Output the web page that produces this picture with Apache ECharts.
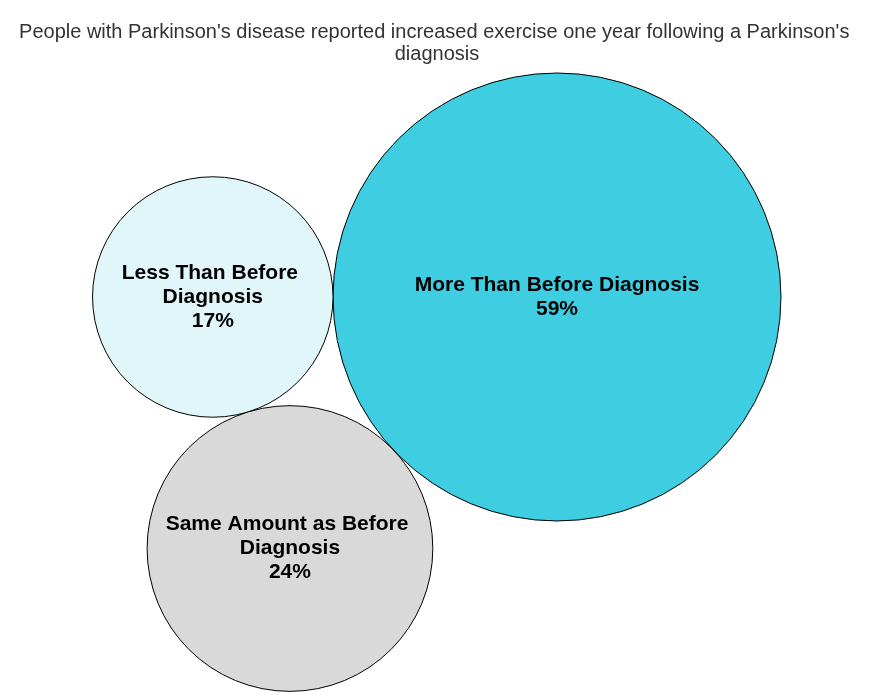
<!DOCTYPE html>
<html>
<head>
<meta charset="utf-8">
<script src="https://cdn.jsdelivr.net/npm/echarts@6/dist/echarts.min.js"></script>
<style>html,body{margin:0;padding:0;background:#fff}#c{width:874px;height:700px}</style>
</head>
<body>
<div id="c"></div>
<script>
const categories = ["More Than Before Diagnosis", "Less Than Before Diagnosis", "Same Amount as Before Diagnosis"];
const values = [59, 17, 24];
const colors = ["#3ECDE1", "#E1F6F9", "#D9D9D9"];
const titleText = "People with Parkinson's disease reported increased exercise one year following a Parkinson's diagnosis";

// packing layout: radius proportional to sqrt(value); largest circle first,
// second tangent on its left, third tangent to both below.
const k = 29.16;           // px per sqrt(unit)
const anchor = [557, 297]; // centre of the largest circle
const r = values.map(v => k * Math.sqrt(v));
const c0 = anchor;
const c1 = [c0[0] - r[0] - r[1], c0[1]];
const d01 = r[0] + r[1], d12 = r[1] + r[2], d02 = r[0] + r[2];
const a = (d12 * d12 - d02 * d02 + d01 * d01) / (2 * d01);
const h = Math.sqrt(d12 * d12 - a * a);
const c2 = [c1[0] + a, c1[1] + h];
const centres = [c0, c1, c2];

const chart = echarts.init(document.getElementById('c'));
chart.setOption({
  animation: false,
  title: {
    text: titleText,
    left: 'center',
    top: 16,
    textStyle: {
      fontFamily: 'Liberation Sans, Arial, sans-serif',
      fontSize: 20, fontWeight: 'normal', color: '#333',
      width: 845, overflow: 'break', lineHeight: 22
    }
  },
  grid: {left: 0, right: 0, top: 0, bottom: 0},
  xAxis: {type: 'value', min: 0, max: 874, show: false},
  yAxis: {type: 'value', min: 0, max: 700, inverse: true, show: false},
  series: [{
    type: 'scatter',
    symbol: 'circle',
    data: categories.map((name, i) => ({
      name: name,
      value: [centres[i][0], centres[i][1], values[i]],
      symbolSize: 2 * r[i],
      itemStyle: {color: colors[i], borderColor: '#000', borderWidth: 1, opacity: 1},
      label: {width: 1.8 * r[i]}
    })),
    label: {
      show: true,
      position: 'inside',
      formatter: p => p.name + '\n' + p.value[2] + '%',
      overflow: 'break',
      fontFamily: 'Liberation Sans, Arial, sans-serif',
      fontSize: 21, fontWeight: 'bold', color: '#000',
      lineHeight: 24, align: 'center'
    }
  }]
});
</script>
</body>
</html>
